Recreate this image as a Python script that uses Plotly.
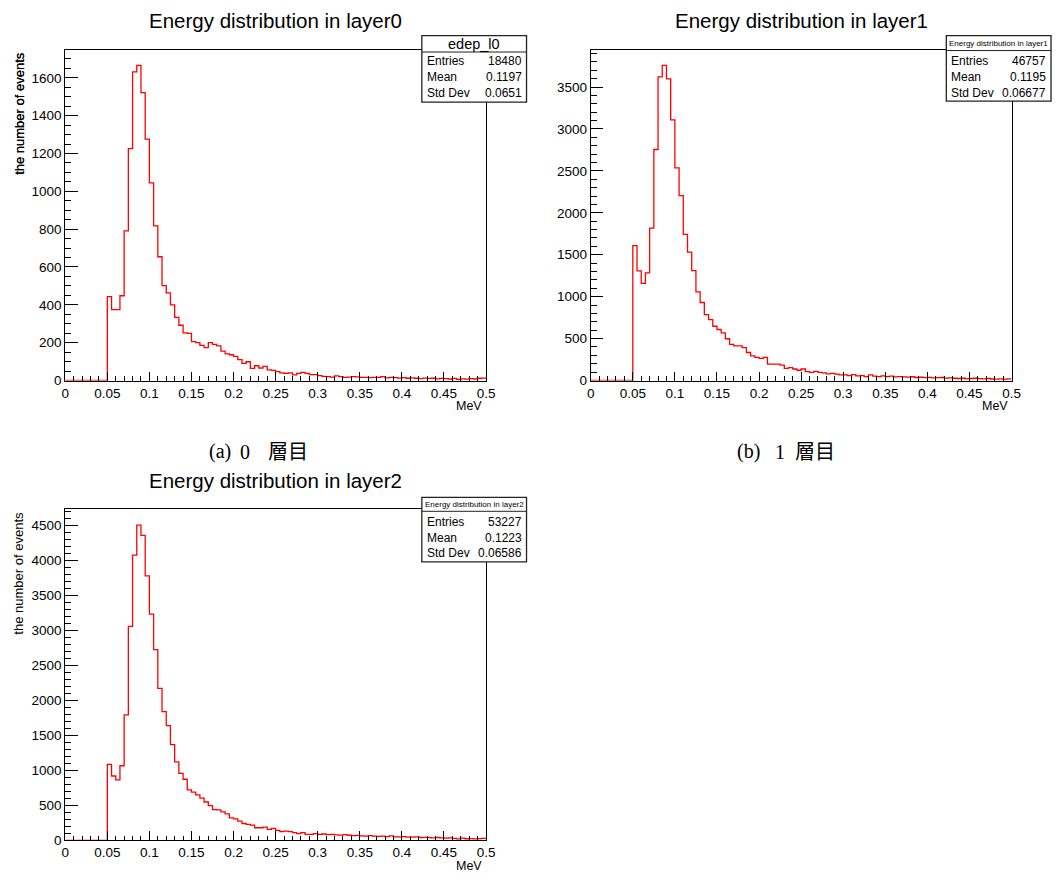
import plotly.graph_objects as go

# ---------------- data ----------------
bin_edges = [round(i * 0.005, 3) for i in range(101)]

x_tick_vals = [0, 0.05, 0.1, 0.15, 0.2, 0.25, 0.3, 0.35, 0.4, 0.45, 0.5]
x_tick_text = ["0", "0.05", "0.1", "0.15", "0.2", "0.25", "0.3", "0.35", "0.4", "0.45", "0.5"]

layer0 = [0, 0, 0, 0, 0, 0, 0, 0, 0, 0,
          443, 375, 375, 448, 791, 1226, 1631, 1666, 1522, 1276,
          1045, 817, 654, 501, 463, 400, 334, 292, 252, 249,
          205, 200, 186, 174, 200, 191, 183, 155, 141, 136,
          127, 110, 90, 99, 64, 78, 66, 75, 56, 54,
          47, 40, 38, 40, 30, 38, 43, 38, 31, 31,
          26, 22, 20, 18, 24, 20, 17, 18, 20, 19,
          16, 17, 15, 17, 16, 20, 14, 17, 15, 13,
          15, 12, 14, 12, 10, 13, 11, 12, 9, 11,
          10, 8, 11, 6, 9, 7, 10, 8, 12, 13]

layer1 = [0, 0, 0, 0, 0, 0, 0, 0, 0, 0,
          1609, 1307, 1158, 1283, 1817, 2755, 3622, 3759, 3598, 3108,
          2535, 2205, 1742, 1530, 1311, 1056, 930, 785, 726, 647,
          608, 569, 498, 432, 412, 412, 392, 334, 294, 275,
          263, 275, 196, 196, 196, 184, 145, 153, 137, 122,
          137, 106, 98, 110, 98, 90, 78, 86, 75, 67,
          67, 59, 71, 55, 59, 47, 67, 51, 47, 55,
          47, 51, 43, 47, 43, 40, 45, 36, 39, 35,
          38, 31, 34, 36, 28, 31, 27, 24, 27, 20,
          24, 27, 22, 20, 24, 18, 16, 20, 17, 20]

layer2 = [0, 0, 0, 0, 0, 0, 0, 0, 0, 0,
          1084, 919, 862, 1065, 1791, 3058, 4076, 4505, 4359, 3779,
          3233, 2724, 2172, 1838, 1640, 1366, 1121, 957, 872, 721,
          688, 650, 603, 547, 495, 438, 434, 405, 377, 320,
          306, 273, 240, 226, 217, 179, 179, 188, 155, 170,
          141, 123, 132, 123, 108, 94, 108, 85, 85, 94,
          85, 90, 80, 85, 78, 75, 80, 72, 66, 70,
          63, 60, 66, 58, 55, 60, 52, 62, 50, 48,
          52, 46, 44, 48, 40, 42, 38, 35, 40, 33,
          30, 33, 28, 20, 30, 22, 25, 20, 24, 26]

titles = ["Energy distribution in layer0", "Energy distribution in layer1", "Energy distribution in layer2"]
stat_names = ["edep_l0", "Energy distribution in layer1", "Energy distribution in layer2"]
entries = ["18480", "46757", "53227"]
means = ["0.1197", "0.1195", "0.1223"]
stddevs = ["0.0651", "0.06677", "0.06586"]
y_dticks = [200, 500, 500]
y_minor = [50, 100, 100]
caption_a = ["(a)", "0", "層目"]
caption_b = ["(b)", "1", "層目"]

# ---------------- layout helpers ----------------
W, H = 1062, 879
def px(x):
    return x / W
def py(y):
    return 1 - y / H

SANS = "Liberation Sans, Arial, sans-serif"
SERIF = "Liberation Serif, Noto Sans CJK JP, serif"

# panel frames in pixels: (left, right, top, bottom)
frames = [(62, 488, 50, 384), (594, 1020, 50, 384), (62, 488, 514, 848)]
# stats box: (left, right, top, sep, bottom, row ys)
boxes = [(423, 529, 36, 52.5, 103, (61.5, 77.5, 93.5)),
         (954, 1060, 36, 51, 102, (61.5, 77.5, 93.5)),
         (423, 529, 502, 516, 567, (527, 543, 558.5))]
stat_title_sizes = [14.5, 8, 8]

fig = go.Figure()
data = [layer0, layer1, layer2]
annotations = []
shapes = []

for i, vals in enumerate(data):
    n = "" if i == 0 else str(i + 1)
    ys = vals + [vals[-1]]
    fig.add_trace(go.Scatter(
        x=bin_edges, y=ys, mode="lines", line=dict(color="#ff0000", width=1.3, shape="hv"),
        xaxis="x" + n, yaxis="y" + n, showlegend=False, hoverinfo="skip"))
    l, r, t, b = frames[i]
    ymax = 1.05 * max(vals)
    xa = dict(domain=[px(l), px(r)], range=[0, 0.5], anchor="y" + n,
              showgrid=False, zeroline=False, showline=True, linecolor="black", linewidth=1,
              mirror=True, ticks="inside", ticklen=9, tickwidth=1, tickcolor="black",
              tickvals=x_tick_vals, ticktext=x_tick_text,
              minor=dict(ticks="inside", ticklen=4.5, dtick=0.01, tick0=0, tickcolor="black", showgrid=False),
              tickfont=dict(family=SANS, size=13.5, color="black"))
    ya = dict(domain=[py(b), py(t)], range=[0, ymax], anchor="x" + n,
              showgrid=False, zeroline=False, showline=True, linecolor="black", linewidth=1,
              mirror=True, ticks="inside", ticklen=12.5, tickwidth=1, tickcolor="black",
              dtick=y_dticks[i], tick0=0,
              minor=dict(ticks="inside", ticklen=6, dtick=y_minor[i], tick0=0, tickcolor="black", showgrid=False),
              tickfont=dict(family=SANS, size=13.5, color="black"))
    fig.update_layout(**{"xaxis" + n: xa, "yaxis" + n: ya})

    # titles
    annotations.append(dict(x=px((l + r) / 2), y=py(t - 29), xref="paper", yref="paper",
                            text=titles[i], showarrow=False, xanchor="center", yanchor="middle",
                            font=dict(family=SANS, size=20.5, color="black")))
    # y axis title
    annotations.append(dict(x=px(15), y=py(t), xref="paper", yref="paper",
                            text="the number of events", showarrow=False, textangle=-90,
                            xanchor="center", yanchor="top",
                            font=dict(family=SANS, size=13, color="black")))
    # x axis title
    annotations.append(dict(x=px(r - 2), y=py(b + 26), xref="paper", yref="paper",
                            text="MeV", showarrow=False, xanchor="right", yanchor="middle",
                            font=dict(family=SANS, size=12.5, color="black")))
    # stats box
    bl, br, bt, bs, bb, rows = boxes[i]
    shapes.append(dict(type="rect", xref="paper", yref="paper", x0=px(bl), x1=px(br),
                       y0=py(bb), y1=py(bt), fillcolor="white", line=dict(color="#222", width=1.3)))
    shapes.append(dict(type="line", xref="paper", yref="paper", x0=px(bl), x1=px(br),
                       y0=py(bs), y1=py(bs), line=dict(color="#222", width=1)))
    annotations.append(dict(x=px((bl + br) / 2), y=py((bt + bs) / 2), xref="paper", yref="paper",
                            text=stat_names[i], showarrow=False, xanchor="center", yanchor="middle",
                            font=dict(family=SANS, size=stat_title_sizes[i], color="black")))
    for lab, val, yy in zip(["Entries", "Mean", "Std Dev"], [entries[i], means[i], stddevs[i]], rows):
        annotations.append(dict(x=px(bl + 3), y=py(yy), xref="paper", yref="paper", text=lab,
                                showarrow=False, xanchor="left", yanchor="middle",
                                font=dict(family=SANS, size=12, color="black")))
        annotations.append(dict(x=px(br - 3), y=py(yy), xref="paper", yref="paper", text=val,
                                showarrow=False, xanchor="right", yanchor="middle",
                                font=dict(family=SANS, size=12, color="black")))

# captions (sub-figure labels), each part placed like the LaTeX spacing
for parts, centers in [(caption_a, [219, 244, 288]), (caption_b, [754, 786, 821])]:
    for txt, cx in zip(parts, centers):
        annotations.append(dict(x=px(cx), y=py(456), xref="paper", yref="paper", text=txt,
                                showarrow=False, xanchor="center", yanchor="middle",
                                font=dict(family=SERIF, size=20, color="black")))

fig.update_layout(width=W, height=H, margin=dict(l=0, r=0, t=0, b=0),
                  paper_bgcolor="white", plot_bgcolor="white",
                  annotations=annotations, shapes=shapes, showlegend=False)

fig.write_html("out.html")
